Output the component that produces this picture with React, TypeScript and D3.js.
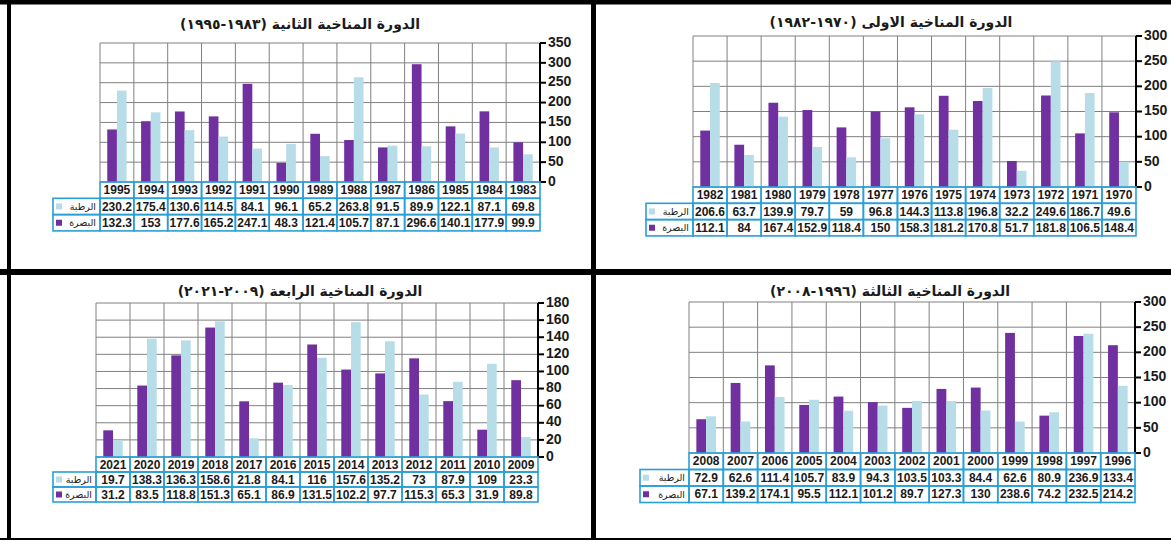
import React from "react";
import * as d3 from "d3";

// Rainfall totals (mm) for Basra and Rutba, four climatic cycles.
// Each cycle lists its years in the order they appear, newest first.

const cycle1Years = ["1982", "1981", "1980", "1979", "1978", "1977", "1976", "1975", "1974", "1973", "1972", "1971", "1970"];
const cycle1Rutba = [206.6, 63.7, 139.9, 79.7, 59, 96.8, 144.3, 113.8, 196.8, 32.2, 249.6, 186.7, 49.6];
const cycle1Basra = [112.1, 84, 167.4, 152.9, 118.4, 150, 158.3, 181.2, 170.8, 51.7, 181.8, 106.5, 148.4];

const cycle2Years = ["1995", "1994", "1993", "1992", "1991", "1990", "1989", "1988", "1987", "1986", "1985", "1984", "1983"];
const cycle2Rutba = [230.2, 175.4, 130.6, 114.5, 84.1, 96.1, 65.2, 263.8, 91.5, 89.9, 122.1, 87.1, 69.8];
const cycle2Basra = [132.3, 153, 177.6, 165.2, 247.1, 48.3, 121.4, 105.7, 87.1, 296.6, 140.1, 177.9, 99.9];

const cycle3Years = ["2008", "2007", "2006", "2005", "2004", "2003", "2002", "2001", "2000", "1999", "1998", "1997", "1996"];
const cycle3Rutba = [72.9, 62.6, 111.4, 105.7, 83.9, 94.3, 103.5, 103.3, 84.4, 62.6, 80.9, 236.9, 133.4];
const cycle3Basra = [67.1, 139.2, 174.1, 95.5, 112.1, 101.2, 89.7, 127.3, 130, 238.6, 74.2, 232.5, 214.2];

const cycle4Years = ["2021", "2020", "2019", "2018", "2017", "2016", "2015", "2014", "2013", "2012", "2011", "2010", "2009"];
const cycle4Rutba = [19.7, 138.3, 136.3, 158.6, 21.8, 84.1, 116, 157.6, 135.2, 73, 87.9, 109, 23.3];
const cycle4Basra = [31.2, 83.5, 118.8, 151.3, 65.1, 86.9, 131.5, 102.2, 97.7, 115.3, 65.3, 31.9, 89.8];

const seriesNames = { rutba: "الرطبة", basra: "البصرة" };

const titles = {
  c1: "الدورة المناخية الاولى (١٩٧٠-١٩٨٢)",
  c2: "الدورة المناخية الثانية (١٩٨٣-١٩٩٥)",
  c3: "الدورة المناخية الثالثة (١٩٩٦-٢٠٠٨)",
  c4: "الدورة المناخية الرابعة (٢٠٠٩-٢٠٢١)",
};

const axisMax = { c1: 300, c2: 350, c3: 300, c4: 180 };
const axisStep = { c1: 50, c2: 50, c3: 50, c4: 20 };

const COLORS = {
  basra: "#7030a0",
  rutba: "#b7dde8",
  grid: "#808080",
  table: "#2a9fd6",
  text: "#1a1a1a",
  frame: "#000000",
};

type Layout = {
  x0: number;
  x1: number;
  yTop: number;
  yBottom: number;
  rowH: number;
  legendLeft: number;
  titleX: number;
  titleY: number;
};

type PanelProps = {
  layout: Layout;
  title: string;
  years: string[];
  rutba: number[];
  basra: number[];
  max: number;
  step: number;
};

const NUM_FONT = "'Liberation Sans', Arial, sans-serif";
const AR_FONT = "'DejaVu Sans', sans-serif";

function Panel({ layout, title, years, rutba, basra, max, step }: PanelProps) {
  const { x0, x1, yTop, yBottom, rowH, legendLeft, titleX, titleY } = layout;

  const x = d3.scaleBand<string>().domain(years).range([x0, x1]).padding(0);
  const bw = x.bandwidth();
  const inner = d3
    .scaleBand<string>()
    .domain(["basra", "rutba"])
    .range([0, bw])
    .paddingInner(0)
    .paddingOuter(0.75);
  const y = d3.scaleLinear().domain([0, max]).range([yBottom, yTop]);
  const ticks = d3.range(0, max + step / 2, step);

  const tableTop = yBottom;
  const rows = [
    { key: "years", label: null as string | null, color: "", values: years.map(String) },
    { key: "rutba", label: seriesNames.rutba, color: COLORS.rutba, values: rutba.map(String) },
    { key: "basra", label: seriesNames.basra, color: COLORS.basra, values: basra.map(String) },
  ];

  return (
    <g>
      <text
        x={titleX}
        y={titleY}
        textAnchor="middle"
        dominantBaseline="middle"
        direction="rtl"
        fontFamily={AR_FONT}
        fontWeight="bold"
        fontSize={14}
        fill={COLORS.text}
      >
        {title}
      </text>

      {/* gridlines */}
      {ticks.map((t) => (
        <line key={"h" + t} x1={x0} x2={x1} y1={y(t)} y2={y(t)} stroke={COLORS.grid} strokeWidth={1} />
      ))}
      {years.map((yr) => (
        <line
          key={"v" + yr}
          x1={x(yr)!}
          x2={x(yr)!}
          y1={yTop}
          y2={yBottom}
          stroke={COLORS.grid}
          strokeWidth={1}
        />
      ))}

      {/* bars */}
      {years.map((yr, i) => (
        <g key={"b" + yr}>
          <rect
            x={x(yr)! + inner("basra")!}
            y={y(basra[i])}
            width={inner.bandwidth()}
            height={yBottom - y(basra[i])}
            fill={COLORS.basra}
          />
          <rect
            x={x(yr)! + inner("rutba")!}
            y={y(rutba[i])}
            width={inner.bandwidth()}
            height={yBottom - y(rutba[i])}
            fill={COLORS.rutba}
          />
        </g>
      ))}

      {/* value axis on the right */}
      <line x1={x1} x2={x1} y1={yTop} y2={yBottom} stroke={COLORS.frame} strokeWidth={2} />
      {ticks.map((t) => (
        <g key={"t" + t}>
          <line x1={x1} x2={x1 + 6} y1={y(t)} y2={y(t)} stroke={COLORS.frame} strokeWidth={2} />
          <text
            x={x1 + 8}
            y={y(t)}
            dominantBaseline="middle"
            fontFamily={NUM_FONT}
            fontWeight="bold"
            fontSize={14}
            fill={COLORS.text}
          >
            {t}
          </text>
        </g>
      ))}

      {/* data table */}
      {rows.map((row, r) => {
        const top = tableTop + r * rowH;
        return (
          <g key={row.key}>
            {row.label && (
              <g>
                <rect
                  x={legendLeft}
                  y={top}
                  width={x0 - legendLeft}
                  height={rowH}
                  fill="none"
                  stroke={COLORS.table}
                  strokeWidth={1.6}
                />
                <rect x={legendLeft + 3} y={top + rowH / 2 - 3} width={6} height={6} fill={row.color} />
                <text
                  x={x0 - 4}
                  y={top + rowH / 2 + 1}
                  textAnchor="start"
                  dominantBaseline="middle"
                  direction="rtl"
                  fontFamily={AR_FONT}
                  fontSize={9.5}
                  fill={COLORS.text}
                >
                  {row.label}
                </text>
              </g>
            )}
            {years.map((yr, i) => (
              <g key={row.key + yr}>
                <rect
                  x={x(yr)!}
                  y={top}
                  width={bw}
                  height={rowH}
                  fill="none"
                  stroke={COLORS.table}
                  strokeWidth={1.6}
                />
                <text
                  x={x(yr)! + bw / 2}
                  y={top + rowH / 2 + 1}
                  textAnchor="middle"
                  dominantBaseline="middle"
                  fontFamily={NUM_FONT}
                  fontWeight="bold"
                  fontSize={12}
                  fill={COLORS.text}
                >
                  {row.values[i]}
                </text>
              </g>
            ))}
          </g>
        );
      })}
    </g>
  );
}

const layouts: Record<string, Layout> = {
  c2: { x0: 100, x1: 540, yTop: 43, yBottom: 182, rowH: 16.3, legendLeft: 53, titleX: 300, titleY: 25 },
  c1: { x0: 693, x1: 1136, yTop: 36, yBottom: 187, rowH: 16.3, legendLeft: 646, titleX: 891, titleY: 23 },
  c4: { x0: 96, x1: 538, yTop: 303, yBottom: 457, rowH: 15, legendLeft: 53, titleX: 300, titleY: 292 },
  c3: { x0: 689, x1: 1135, yTop: 302, yBottom: 453, rowH: 16.5, legendLeft: 640, titleX: 890, titleY: 292 },
};

export default function App() {
  const W = 1171;
  const H = 540;
  return (
    <svg
      width={W}
      height={H}
      viewBox={`0 0 ${W} ${H}`}
      style={{ position: "absolute", left: 0, top: 0, background: "#ffffff" }}
    >
      <rect x={0} y={0} width={W} height={H} fill="#ffffff" />

      <Panel layout={layouts.c2} title={titles.c2} years={cycle2Years} rutba={cycle2Rutba} basra={cycle2Basra} max={axisMax.c2} step={axisStep.c2} />
      <Panel layout={layouts.c1} title={titles.c1} years={cycle1Years} rutba={cycle1Rutba} basra={cycle1Basra} max={axisMax.c1} step={axisStep.c1} />
      <Panel layout={layouts.c4} title={titles.c4} years={cycle4Years} rutba={cycle4Rutba} basra={cycle4Basra} max={axisMax.c4} step={axisStep.c4} />
      <Panel layout={layouts.c3} title={titles.c3} years={cycle3Years} rutba={cycle3Rutba} basra={cycle3Basra} max={axisMax.c3} step={axisStep.c3} />

      {/* panel frames */}
      <line x1={0} x2={W} y1={2} y2={2} stroke={COLORS.frame} strokeWidth={5} />
      <line x1={9} x2={9} y1={0} y2={H} stroke={COLORS.frame} strokeWidth={4} />
      <line x1={593.5} x2={593.5} y1={0} y2={H} stroke={COLORS.frame} strokeWidth={5} />
      <line x1={0} x2={W} y1={272} y2={272} stroke={COLORS.frame} strokeWidth={6} />
      <line x1={0} x2={W} y1={539} y2={539} stroke={COLORS.frame} strokeWidth={2} />
    </svg>
  );
}
